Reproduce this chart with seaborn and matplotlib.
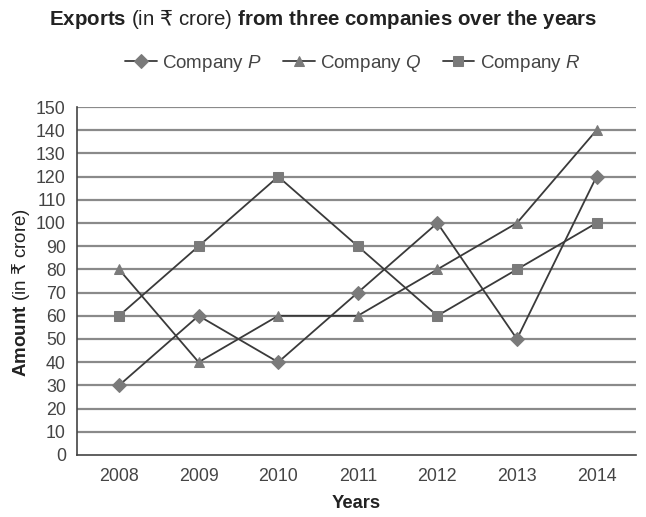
import matplotlib
matplotlib.use("Agg")
import matplotlib.pyplot as plt
import seaborn as sns
import pandas as pd

years = [2008, 2009, 2010, 2011, 2012, 2013, 2014]
company_p = [30, 60, 40, 70, 100, 50, 120]
company_q = [80, 40, 60, 60, 80, 100, 140]
company_r = [60, 90, 120, 90, 60, 80, 100]
companies = ["Company P", "Company Q", "Company R"]

sns.set_style("white")
plt.rcParams["font.family"] = ["Liberation Sans", "DejaVu Sans"]
plt.rcParams["mathtext.fontset"] = "custom"
plt.rcParams["mathtext.rm"] = "Liberation Sans"
plt.rcParams["mathtext.it"] = "Liberation Sans:italic"
plt.rcParams["mathtext.bf"] = "Liberation Sans:bold"
plt.rcParams["mathtext.sf"] = "DejaVu Sans"

df = pd.DataFrame({
    "Year": years * 3,
    "Amount": company_p + company_q + company_r,
    "Company": [c for c in companies for _ in years],
})

fig = plt.figure(figsize=(6.46, 5.17), dpi=100)
ax = fig.add_axes([0.119, 0.12, 0.866, 0.673])

line_col = "#3a3a3a"
mark_col = "#7a7a7a"
grid_col = "#8a8a8a"

sns.lineplot(data=df, x="Year", y="Amount", hue="Company", style="Company",
             palette=[line_col] * 3, markers={"Company P": "D", "Company Q": "^", "Company R": "s"},
             dashes=False, ax=ax, linewidth=1.3, markersize=7,
             markerfacecolor=mark_col, markeredgecolor=mark_col, legend=False)

ax.set_ylim(0, 150)
ax.set_xlim(2007.47, 2014.5)
ax.set_yticks(range(0, 151, 10))
ax.set_xticks(years)
for y in range(10, 151, 10):
    ax.axhline(y, color=grid_col, linewidth=1.6, zorder=0)

for s in ["top", "right"]:
    ax.spines[s].set_visible(False)
ax.spines["left"].set_color("#444444")
ax.spines["bottom"].set_color("#444444")
ax.spines["left"].set_linewidth(1.2)
ax.spines["bottom"].set_linewidth(1.2)
ax.tick_params(axis="y", direction="out", length=6, width=1.2, color="#444444",
               labelsize=12.8, labelcolor="#444444", pad=2)
ax.tick_params(axis="x", direction="inout", length=9, width=1.2, color="#444444",
               labelsize=12.8, labelcolor="#444444", pad=5)

ax.set_xlabel("Years", fontsize=13.2, fontweight="bold", color="#222222")
ax.xaxis.set_label_coords(0.5, -0.115)
ax.set_ylabel(r"$\bf{Amount}$ (in $\mathsf{₹}$ crore)", fontsize=13.5, color="#222222")
ax.yaxis.set_label_coords(-0.08, 0.468)

fig.text(0.5, 0.963,
         r"$\bf{Exports}$ (in $\mathsf{₹}$ crore) $\bf{from\ three\ companies\ over\ the\ years}$",
         ha="center", va="center", fontsize=14.8, color="#222222")

handles = ax.get_lines()[:3]
labels = [r"Company $P$", r"Company $Q$", r"Company $R$"]
fig.legend(handles, labels, loc="center", bbox_to_anchor=(0.546, 0.878), ncol=3,
           frameon=False, fontsize=13.5, handlelength=1.7, columnspacing=1.1,
           handletextpad=0.3, labelcolor="#444444")

fig.savefig("out.png", dpi=100)
